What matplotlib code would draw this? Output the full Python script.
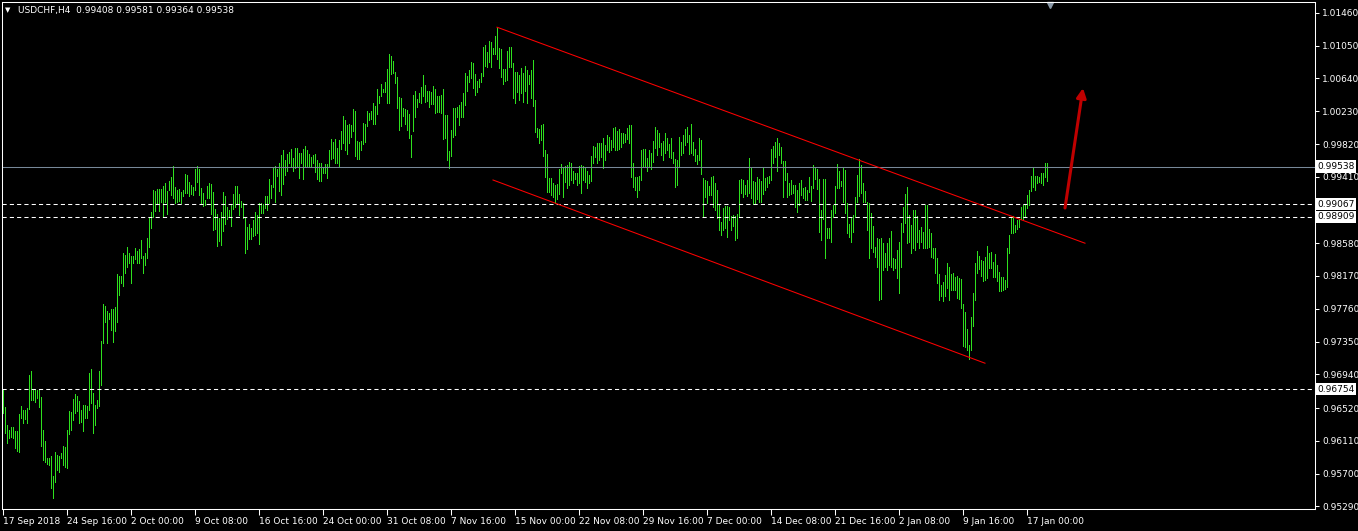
import numpy as np
import matplotlib.pyplot as plt

symbol = "USDCHF,H4"
last_ohlc = "0.99408 0.99581 0.99364 0.99538"

# H4 bar highs / lows, in units of 0.0001
high = [
    9675, 9653, 9631, 9625, 9628, 9628, 9623, 9623, 9645, 9655,
    9650, 9650, 9652, 9693, 9698, 9676, 9676, 9675, 9675, 9666,
    9625, 9611, 9590, 9590, 9592, 9567, 9597, 9593, 9592, 9596,
    9605, 9603, 9625, 9648, 9647, 9663, 9670, 9667, 9661, 9650,
    9656, 9656, 9655, 9696, 9701, 9671, 9656, 9662, 9698, 9736,
    9782, 9780, 9773, 9771, 9776, 9776, 9778, 9820, 9817, 9817,
    9846, 9843, 9853, 9846, 9842, 9842, 9852, 9848, 9851, 9862,
    9842, 9846, 9865, 9890, 9897, 9925, 9923, 9926, 9926, 9926,
    9930, 9933, 9923, 9936, 9941, 9955, 9928, 9925, 9926, 9922,
    9925, 9945, 9943, 9935, 9931, 9928, 9951, 9955, 9951, 9927,
    9921, 9912, 9930, 9933, 9932, 9922, 9901, 9895, 9890, 9897,
    9922, 9917, 9903, 9900, 9907, 9920, 9930, 9930, 9920, 9911,
    9908, 9890, 9878, 9882, 9877, 9887, 9897, 9893, 9908, 9908,
    9907, 9917, 9917, 9938,
    9931, 9953, 9955, 9951, 9958, 9968, 9975, 9962, 9970, 9972,
    9976, 9965, 9977, 9977, 9971, 9971, 9976, 9980, 9975, 9970,
    9966, 9968, 9970, 9962, 9958, 9958, 9953, 9957, 9957, 9975,
    9988, 9985, 9988, 9977, 9987, 9998, 10017, 10012, 10006, 10007,
    10006, 10026, 10023, 9986, 9985, 9986, 10008, 10007, 10023, 10021,
    10023, 10033, 10030, 10051, 10042, 10057, 10051, 10060, 10076, 10095,
    10092, 10086, 10072, 10066, 10041, 10040, 10027, 10026, 10025, 10020,
    9993, 10043, 10048, 10038, 10046, 10053, 10068, 10056, 10048, 10048,
    10047, 10055, 10051, 10042, 10042, 10043, 10051, 10018, 10018, 9973,
    10000, 10027, 10027, 10028, 10031, 10035, 10046, 10071, 10067, 10075,
    10085, 10083, 10070, 10061, 10063, 10071, 10103, 10106, 10097, 10111,
    10110, 10102, 10117, 10127, 10102, 10101, 10076, 10076, 10098, 10103,
    10103, 10083, 10072, 10072, 10068, 10077, 10071, 10080, 10075, 10068,
    10075, 10087,
    10037, 10002, 10001, 10006, 10007, 9975, 9970, 9940, 9940, 9933,
    9931, 9932, 9951, 9957, 9952, 9955, 9956, 9960, 9958, 9948,
    9946, 9946, 9955, 9956, 9955, 9952, 9948, 9943, 9967, 9980,
    9978, 9983, 9983, 9983, 9990, 9981, 9993, 9991, 9987, 10002,
    10003, 9998, 10001, 9996, 9996, 9995, 10002, 10006, 10006, 9958,
    9941, 9941, 9942, 9975, 9976, 9976, 9965, 9975, 9971, 9986,
    10003, 10000, 9996, 9983, 9986, 9996, 9990, 9982, 9990, 9972,
    9963, 9962, 9991, 9985, 9993, 10001, 10003, 9993, 10007, 9985,
    9976, 9968, 9990, 9987, 9940, 9937, 9936, 9930, 9941, 9942,
    9933, 9925, 9907, 9885, 9902, 9905, 9905, 9903, 9892, 9893,
    9892, 9895, 9937, 9938, 9937, 9931, 9937, 9965, 9953, 9936,
    9935, 9941, 9938, 9936, 9953, 9940, 9941, 9942, 9976, 9980,
    9985, 9990, 9983, 9978, 9961, 9961, 9946, 9933,
    9937, 9931, 9931, 9925, 9933, 9937, 9927, 9928, 9925, 9941,
    9930, 9956, 9953, 9951, 9938, 9900, 9938, 9938, 9877, 9877,
    9900, 9906, 9930, 9957, 9948, 9936, 9953, 9950, 9908, 9882,
    9891, 9893, 9916, 9943, 9963, 9956, 9933, 9923, 9910, 9908,
    9896, 9880, 9853, 9865, 9863, 9865, 9858, 9846, 9858, 9865,
    9873, 9840, 9838, 9850, 9860, 9883, 9903, 9920, 9928, 9893,
    9881, 9900, 9900, 9892, 9875, 9878, 9872, 9906, 9906, 9876,
    9871, 9852, 9852, 9840, 9820, 9806, 9810, 9818, 9833, 9828,
    9820, 9821, 9816, 9817, 9815, 9813, 9782, 9772, 9751, 9731,
    9766, 9796, 9833, 9848, 9842, 9837, 9836, 9841, 9855, 9846,
    9847, 9835, 9845, 9831, 9822, 9816, 9816, 9812, 9852, 9868,
    9891, 9892, 9881, 9887, 9888, 9903, 9906, 9906, 9918, 9925,
    9942, 9953, 9942, 9942, 9941, 9946, 9946, 9958, 9958,
]
low = [
    9646, 9621, 9608, 9615, 9616, 9615, 9602, 9598, 9597, 9640,
    9633, 9638, 9633, 9651, 9662, 9662, 9660, 9665, 9653, 9605,
    9587, 9585, 9582, 9581, 9552, 9540, 9560, 9575, 9572, 9590,
    9581, 9578, 9577, 9620, 9625, 9637, 9646, 9648, 9633, 9635,
    9623, 9640, 9640, 9650, 9658, 9621, 9631, 9652, 9655, 9681,
    9733, 9760, 9733, 9763, 9750, 9735, 9748, 9760, 9793, 9808,
    9805, 9821, 9828, 9833, 9808, 9833, 9838, 9833, 9833, 9840,
    9821, 9831, 9840, 9853, 9877, 9891, 9898, 9908, 9898, 9910,
    9892, 9910, 9895, 9925, 9918, 9915, 9908, 9910, 9911, 9908,
    9917, 9921, 9921, 9917, 9920, 9918, 9925, 9935, 9918, 9908,
    9905, 9906, 9915, 9915, 9895, 9875, 9876, 9855, 9861, 9856,
    9873, 9882, 9888, 9891, 9880, 9901, 9903, 9908, 9893, 9903,
    9890, 9846, 9851, 9863, 9863, 9867, 9868, 9871, 9857, 9896,
    9896, 9902, 9900, 9908,
    9915, 9928, 9910, 9942, 9923, 9918, 9932, 9943, 9948, 9958,
    9953, 9948, 9952, 9953, 9940, 9958, 9938, 9955, 9953, 9953,
    9953, 9958, 9947, 9938, 9936, 9936, 9946, 9946, 9940, 9955,
    9963, 9965, 9958, 9958, 9953, 9976, 9983, 9975, 9970, 9983,
    9991, 9998, 9967, 9963, 9963, 9975, 9982, 9985, 10005, 10012,
    10013, 10007, 10007, 10020, 10033, 10042, 10047, 10047, 10033, 10033,
    10070, 10071, 10058, 10027, 10000, 10005, 10017, 10007, 10000, 9990,
    9966, 9998, 10016, 10028, 10035, 10033, 10042, 10035, 10036, 10028,
    10032, 10032, 10021, 10022, 10022, 10021, 9988, 9990, 9962, 9952,
    9967, 9991, 9993, 10016, 10006, 10016, 10016, 10031, 10048, 10060,
    10065, 10052, 10043, 10047, 10053, 10060, 10067, 10080, 10078, 10085,
    10078, 10095, 10095, 10088, 10077, 10066, 10057, 10061, 10062, 10078,
    10078, 10040, 10033, 10047, 10037, 10046, 10035, 10048, 10033, 10057,
    10040, 10030,
    9997, 9991, 9983, 9987, 9967, 9941, 9922, 9922, 9918, 9916,
    9908, 9913, 9920, 9946, 9916, 9935, 9927, 9931, 9937, 9933,
    9938, 9931, 9933, 9921, 9937, 9935, 9927, 9933, 9936, 9958,
    9966, 9958, 9962, 9966, 9952, 9962, 9975, 9972, 9975, 9978,
    9975, 9975, 9976, 9978, 9983, 9985, 9988, 9983, 9941, 9928,
    9925, 9916, 9925, 9937, 9953, 9953, 9948, 9953, 9951, 9960,
    9977, 9968, 9978, 9968, 9962, 9971, 9975, 9966, 9965, 9958,
    9928, 9931, 9953, 9968, 9971, 9981, 9985, 9970, 9971, 9968,
    9961, 9957, 9962, 9945, 9892, 9916, 9908, 9918, 9918, 9903,
    9900, 9890, 9875, 9868, 9875, 9877, 9866, 9887, 9875, 9880,
    9862, 9865, 9891, 9921, 9916, 9920, 9917, 9921, 9915, 9907,
    9907, 9913, 9910, 9910, 9920, 9925, 9928, 9933, 9937, 9958,
    9966, 9948, 9968, 9958, 9916, 9937, 9916, 9918,
    9920, 9921, 9903, 9897, 9906, 9918, 9915, 9912, 9912, 9922,
    9911, 9927, 9938, 9926, 9872, 9862, 9888, 9840, 9865, 9865,
    9860, 9891, 9896, 9927, 9927, 9930, 9910, 9896, 9871, 9866,
    9860, 9872, 9891, 9910, 9917, 9921, 9910, 9910, 9875, 9840,
    9852, 9847, 9841, 9828, 9787, 9788, 9825, 9828, 9825, 9831,
    9828, 9825, 9827, 9815, 9796, 9828, 9872, 9883, 9858, 9860,
    9846, 9852, 9850, 9860, 9852, 9860, 9852, 9852, 9852, 9853,
    9841, 9840, 9821, 9808, 9787, 9792, 9786, 9792, 9802, 9787,
    9800, 9800, 9800, 9790, 9788, 9777, 9730, 9728, 9725, 9713,
    9725, 9755, 9787, 9821, 9826, 9817, 9811, 9812, 9815, 9827,
    9827, 9816, 9816, 9811, 9798, 9798, 9800, 9801, 9803, 9846,
    9871, 9871, 9872, 9876, 9878, 9888, 9888, 9891, 9902, 9906,
    9923, 9928, 9925, 9933, 9935, 9933, 9931, 9941, 9936,
]

date_labels = ["17 Sep 2018", "24 Sep 16:00", "2 Oct 00:00", "9 Oct 08:00",
               "16 Oct 16:00", "24 Oct 00:00", "31 Oct 08:00", "7 Nov 16:00",
               "15 Nov 00:00", "22 Nov 08:00", "29 Nov 16:00", "7 Dec 00:00",
               "14 Dec 08:00", "21 Dec 16:00", "2 Jan 08:00", "9 Jan 16:00",
               "17 Jan 00:00"]
bars_per_label = 32

price_ticks = [1.01460, 1.01050, 1.00640, 1.00230, 0.99820, 0.99410,
               0.98580, 0.98170, 0.97760, 0.97350, 0.96940, 0.96520,
               0.96110, 0.95700, 0.95290]

bid_level = 0.99538
dashed_levels = [0.99067, 0.98909, 0.96754]

# channel (bar index, price)
upper_line = [(247, 1.0128), (541, 0.9858)]
lower_line = [(245, 0.9937), (491, 0.9708)]
arrow_from = (531, 0.9902)
arrow_to = (540, 1.0052)

W, H = 1358, 531
fig = plt.figure(figsize=(W / 100, H / 100), dpi=100, facecolor='black')
ax = fig.add_axes([2 / W, (H - 509) / H, (1315 - 2) / W, (509 - 2) / H])
ax.set_facecolor('black')

hi = np.array(high) / 1e4
lo = np.array(low) / 1e4
idx = np.arange(len(hi))
# thin 1px bars with a 1px gap between them
ax.vlines(idx, lo, hi, color='#2ee01e', linewidth=0.55, antialiased=False)

ax.set_xlim(-0.5, 656)
ax.set_ylim(0.952575, 1.01595)

ax.axhline(bid_level, color='#778899', linewidth=0.75)
for lv in dashed_levels:
    ax.axhline(lv, color='white', linewidth=0.75, linestyle=(0, (4, 3)))

for line in (upper_line, lower_line):
    xs, ys = zip(*line)
    ax.plot(xs, ys, color='red', linewidth=0.75)

ax.annotate('', xy=arrow_to, xytext=arrow_from,
            arrowprops=dict(arrowstyle='-|>', color='#c00000', lw=2.2,
                            mutation_scale=14, shrinkA=0, shrinkB=0))

# chart shift marker
ax.plot([523.5], [1 - 3 / 507], marker='v', markersize=5, color='#8a99a8',
        transform=ax.get_xaxis_transform(), clip_on=False)

for s in ax.spines.values():
    s.set_color('white')
    s.set_linewidth(0.75)

ax.yaxis.tick_right()
ax.set_yticks(price_ticks)
ax.set_yticklabels([f"{p:.5f}" for p in price_ticks])
ax.tick_params(axis='y', colors='white', labelsize=6.5, length=3, pad=2, width=0.75)

xt = [k * bars_per_label for k in range(len(date_labels))]
ax.set_xticks(xt)
ax.set_xticklabels(date_labels, ha='left')
ax.tick_params(axis='x', colors='white', labelsize=6.5, length=4, pad=2, width=0.75)

for lv in [bid_level] + dashed_levels:
    ax.text(1 + 2 / 1313, lv, f"{lv:.5f}", transform=ax.get_yaxis_transform(),
            color='black', fontsize=6.5, va='center', ha='left',
            bbox=dict(facecolor='white', edgecolor='none', pad=1.2))

fig.text(5 / W, 1 - 10 / H, '▼', color='white', fontsize=5, va='center')
fig.text(18 / W, 1 - 10 / H, f"{symbol}  {last_ohlc}", color='white',
         fontsize=6.5, va='center')

fig.savefig('out.png', dpi=100, facecolor='black')
